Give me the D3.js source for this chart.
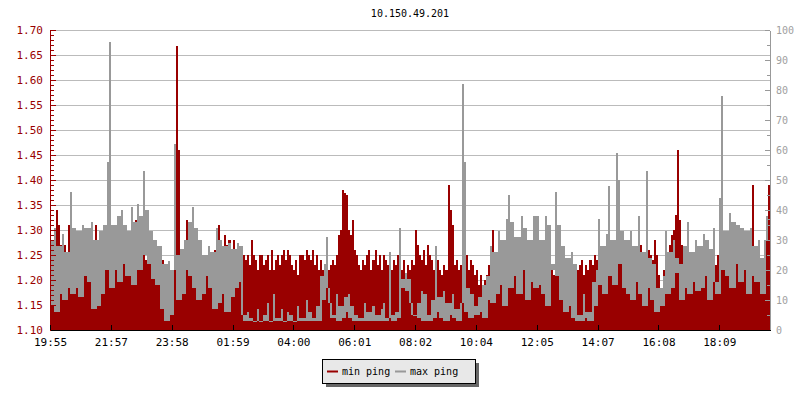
<!DOCTYPE html>
<html>
<head>
<meta charset="utf-8">
<script src="https://cdn.jsdelivr.net/npm/d3@7"></script>
<style>
	body { margin: 0; background: #fff; }
	text { font-family: 'DejaVu Sans Mono', monospace; font-size: 10px; }
</style>
</head>
<body>
<div id="chart"></div>
<script>
var title = "10.150.49.201";

// time labels, one every 30 samples
var timeLabels = ["19:55", "21:57", "23:58", "01:59", "04:00", "06:01", "08:02", "10:04", "12:05", "14:07", "16:08", "18:09"];
var labelStep = 30;

var minTicks = [1.10, 1.15, 1.20, 1.25, 1.30, 1.35, 1.40, 1.45, 1.50, 1.55, 1.60, 1.65, 1.70];
var maxTicks = [0, 10, 20, 30, 40, 50, 60, 70, 80, 90, 100];

// min ping (left axis)
var minPing = [
	1.26,1.27,1.29,1.34,1.31,1.27,1.24,1.27,1.21,1.31,
	1.24,1.27,1.22,1.25,1.20,1.22,1.21,1.23,1.22,1.21,
	1.27,1.24,1.31,1.23,1.26,1.22,1.25,1.24,1.28,1.27,
	1.29,1.26,1.28,1.25,1.27,1.26,1.29,1.30,1.27,1.28,
	1.25,1.30,1.32,1.28,1.27,1.25,1.26,1.24,1.28,1.25,
	1.24,1.26,1.23,1.25,1.22,1.24,1.20,1.23,1.21,1.22,
	1.20,1.23,1.668,1.46,1.25,1.22,1.27,1.32,1.28,1.30,
	1.26,1.24,1.21,1.23,1.20,1.22,1.21,1.24,1.22,1.25,
	1.24,1.26,1.23,1.31,1.25,1.24,1.29,1.27,1.28,1.24,
	1.28,1.25,1.23,1.26,1.24,1.25,1.24,1.25,1.23,1.28,
	1.25,1.24,1.22,1.25,1.25,1.23,1.24,1.25,1.22,1.26,
	1.22,1.24,1.25,1.23,1.25,1.26,1.24,1.26,1.25,1.23,
	1.22,1.24,1.21,1.25,1.25,1.24,1.26,1.25,1.24,1.26,
	1.23,1.25,1.22,1.24,1.22,1.23,1.24,1.22,1.23,1.24,
	1.23,1.25,1.29,1.30,1.38,1.375,1.37,1.30,1.29,1.32,
	1.26,1.25,1.23,1.22,1.24,1.23,1.25,1.26,1.22,1.24,
	1.26,1.23,1.25,1.22,1.25,1.24,1.23,1.25,1.22,1.24,
	1.23,1.25,1.24,1.22,1.24,1.21,1.23,1.22,1.24,1.23,
	1.30,1.27,1.25,1.24,1.26,1.23,1.27,1.25,1.24,1.22,
	1.25,1.24,1.22,1.21,1.23,1.22,1.39,1.34,1.31,1.23,
	1.24,1.22,1.23,1.27,1.24,1.25,1.22,1.24,1.23,1.21,
	1.22,1.19,1.21,1.18,1.20,1.21,1.23,1.24,1.30,1.24,
	1.24,1.25,1.23,1.25,1.22,1.24,1.21,1.25,1.23,1.22,
	1.25,1.23,1.24,1.22,1.29,1.24,1.21,1.25,1.23,1.25,
	1.24,1.22,1.23,1.27,1.21,1.20,1.22,1.23,1.21,1.22,
	1.23,1.24,1.21,1.22,1.21,1.22,1.20,1.22,1.21,1.23,
	1.22,1.23,1.24,1.21,1.23,1.22,1.24,1.23,1.25,1.24,
	1.25,1.23,1.22,1.24,1.23,1.25,1.22,1.24,1.23,1.26,
	1.28,1.25,1.27,1.26,1.24,1.27,1.22,1.25,1.23,1.26,
	1.24,1.27,1.23,1.25,1.22,1.26,1.25,1.24,1.28,1.25,
	1.21,1.18,1.22,1.26,1.25,1.27,1.29,1.30,1.33,1.46,
	1.32,1.27,1.25,1.26,1.23,1.22,1.24,1.21,1.28,1.24,
	1.25,1.23,1.26,1.24,1.23,1.25,1.22,1.24,1.23,1.25,
	1.26,1.24,1.22,1.25,1.23,1.26,1.22,1.24,1.25,1.23,
	1.24,1.22,1.25,1.23,1.24,1.27,1.39,1.25,1.23,1.24,
	1.21,1.24,1.22,1.30,1.39
];

// max ping (right axis)
var maxPing = [
	30,8,34,6,28,12,32,10,26,14,
	46,12,34,14,33,11,35,18,34,16,
	36,7,30,8,33,12,35,20,56,96,
	14,35,20,38,16,40,22,35,18,33,
	41,15,36,42,20,38,53,25,40,22,
	33,17,30,15,28,7,22,3,23,5,
	20,62,25,10,27,12,30,20,36,18,
	41,14,34,10,30,12,25,18,28,14,
	26,7,34,9,30,12,28,6,29,11,
	27,14,29,16,28,5,3,6,3,4,
	3,3,7,3,3,5,3,9,3,3,
	12,3,4,3,7,3,3,6,3,5,
	3,3,8,3,4,3,10,3,6,3,
	4,8,3,18,10,22,31,14,9,4,
	5,12,3,8,4,11,6,12,4,8,
	3,5,3,4,3,9,3,6,3,8,
	3,5,3,7,9,3,4,26,5,3,
	6,4,34,17,14,19,13,17,9,5,
	5,9,4,13,3,12,5,3,10,4,
	28,6,11,4,13,3,9,5,12,4,
	7,3,9,82,56,6,14,4,12,8,
	5,11,6,15,4,18,10,28,9,26,
	12,33,15,30,8,37,45,14,36,18,
	31,12,38,20,34,10,30,16,38,14,
	38,15,30,12,38,8,35,20,22,46,
	18,35,10,28,6,24,8,26,4,22,
	3,5,3,12,4,6,3,16,8,20,
	37,15,28,12,32,48,18,30,15,59,
	50,22,33,14,30,12,33,10,28,16,
	38,12,26,8,53,14,24,10,22,6,
	14,8,18,33,12,26,14,30,19,24,
	22,10,28,14,36,12,26,16,30,13,
	28,14,32,18,30,10,27,34,16,12,
	44,78,20,33,18,39,14,36,22,35,
	16,34,20,33,12,34,18,28,16,30,
	24,12,30,38,37
];

var red = "#990000",
	grey = "#999999";

var width = 800,
	height = 400,
	margin = {top: 30, right: 30, bottom: 70, left: 50},
	plotW = width - margin.left - margin.right,
	plotH = height - margin.top - margin.bottom;

var svg = d3.select("#chart").append("svg")
	.attr("width", width)
	.attr("height", height);

var x = d3.scaleLinear().domain([0, minPing.length]).range([margin.left, margin.left + plotW]),
	yMin = d3.scaleLinear().domain([1.10, 1.70]).range([margin.top + plotH, margin.top]),
	yMax = d3.scaleLinear().domain([0, 100]).range([margin.top + plotH, margin.top]);

// title
svg.append("text")
	.attr("x", margin.left + plotW / 2)
	.attr("y", 17)
	.attr("text-anchor", "middle")
	.attr("fill", "#000")
	.text(title);

// horizontal grid
svg.append("g")
	.selectAll("line")
	.data(minTicks.slice(1))
  .enter().append("line")
	.attr("x1", margin.left)
	.attr("x2", margin.left + plotW)
	.attr("y1", function(d) { return Math.round(yMin(d)) + 0.5; })
	.attr("y2", function(d) { return Math.round(yMin(d)) + 0.5; })
	.attr("stroke", "#bbbbbb")
	.attr("shape-rendering", "crispEdges");

// min ping as filled steps
var area = d3.area()
	.x(function(d, i) { return x(i); })
	.y0(yMin(1.10))
	.y1(function(d) { return yMin(d); })
	.curve(d3.curveStepAfter);

svg.append("path")
	.datum(minPing.concat([minPing[minPing.length - 1]]))
	.attr("d", area)
	.attr("fill", red)
	.attr("shape-rendering", "crispEdges");

// max ping: each sample is a column reaching down (or up) to the
// lower of its neighbours, the way a very dense line looks
function lowNeighbour(i) {
	var a = i > 0 ? maxPing[i - 1] : maxPing[i],
		b = i < maxPing.length - 1 ? maxPing[i + 1] : maxPing[i];
	return Math.min(a, b);
}

svg.append("g")
	.selectAll("rect")
	.data(maxPing)
  .enter().append("rect")
	.attr("x", function(d, i) { return Math.round(x(i)); })
	.attr("width", function(d, i) { return Math.round(x(i + 1)) - Math.round(x(i)); })
	.attr("y", function(d, i) { return Math.round(yMax(Math.max(d, lowNeighbour(i)))); })
	.attr("height", function(d, i) { return Math.max(1, Math.round(Math.abs(yMax(d) - yMax(lowNeighbour(i))))); })
	.attr("fill", grey)
	.attr("shape-rendering", "crispEdges");

// left axis
var leftAxis = svg.append("g")
	.attr("transform", "translate(" + margin.left + ",0)")
	.call(d3.axisLeft(yMin).tickValues(minTicks).tickFormat(d3.format(".2f")).tickSize(-6).tickSizeOuter(0).tickPadding(7));
leftAxis.append("g")
	.call(d3.axisLeft(yMin).tickValues(d3.range(0, 61).map(function(k) { return 1.10 + k / 100; })).tickFormat("").tickSize(-4).tickSizeOuter(0));
leftAxis.selectAll("path, line").attr("stroke", red).attr("shape-rendering", "crispEdges");
leftAxis.selectAll("text").attr("fill", red).style("font-size", "11px");

// right axis
var rightAxis = svg.append("g")
	.attr("transform", "translate(" + (margin.left + plotW) + ",0)")
	.call(d3.axisRight(yMax).tickValues(maxTicks).tickSize(-5).tickSizeOuter(0).tickPadding(6));
rightAxis.append("g")
	.call(d3.axisRight(yMax).tickValues(d3.range(5, 100, 10)).tickFormat("").tickSize(-3).tickSizeOuter(0));
rightAxis.selectAll("path, line").attr("stroke", grey).attr("shape-rendering", "crispEdges");
rightAxis.selectAll("text").attr("fill", "#a0a0a0");

// bottom axis
var bottomAxis = svg.append("g")
	.attr("transform", "translate(0," + (margin.top + plotH) + ")")
	.call(d3.axisBottom(x)
		.tickValues(timeLabels.map(function(d, i) { return i * labelStep; }))
		.tickFormat(function(d) { return timeLabels[d / labelStep]; })
		.tickSize(-5).tickSizeOuter(0).tickPadding(8));
bottomAxis.selectAll("path, line").attr("stroke", "#000").attr("shape-rendering", "crispEdges");
bottomAxis.selectAll("text").attr("fill", "#000").style("font-size", "11px");

// legend with drop shadow
var legend = svg.append("g").attr("transform", "translate(322,359)");
legend.append("rect")
	.attr("x", 4).attr("y", 4)
	.attr("width", 153).attr("height", 24)
	.attr("fill", "#666666");
legend.append("rect")
	.attr("x", 0.5).attr("y", 0.5)
	.attr("width", 153).attr("height", 24)
	.attr("fill", "#e8e8e8")
	.attr("stroke", "#000");

var items = [{name: "min ping", color: red}, {name: "max ping", color: grey}];
var item = legend.selectAll(".item")
	.data(items)
  .enter().append("g")
	.attr("class", "item")
	.attr("transform", function(d, i) { return "translate(" + (5 + i * 68) + ",0)"; });
item.append("line")
	.attr("x1", 0).attr("x2", 11)
	.attr("y1", 12.5).attr("y2", 12.5)
	.attr("stroke", function(d) { return d.color; })
	.attr("stroke-width", 2);
item.append("text")
	.attr("x", 15)
	.attr("y", 16)
	.attr("fill", "#000")
	.text(function(d) { return d.name; });
</script>
</body>
</html>
